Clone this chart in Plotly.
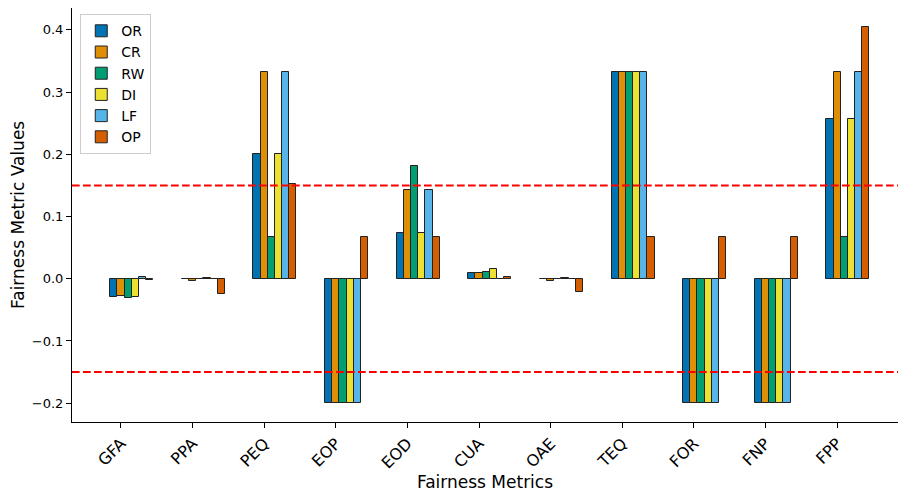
import plotly.graph_objects as go

metrics = ["GFA", "PPA", "PEQ", "EOP", "EOD", "CUA", "OAE", "TEQ", "FOR", "FNP", "FPP"]

series_names = ["OR", "CR", "RW", "DI", "LF", "OP"]
series_colors = ["#0173b2", "#de8f05", "#029e73", "#ece133", "#56b4e9", "#d55e00"]

OR = [-0.030, -0.001, 0.200, -0.200, 0.074, 0.010, -0.001, 0.333, -0.200, -0.200, 0.256]
CR = [-0.028, -0.003, 0.333, -0.200, 0.143, 0.010, -0.003, 0.333, -0.200, -0.200, 0.333]
RW = [-0.031, -0.001, 0.067, -0.200, 0.182, 0.011, -0.001, 0.333, -0.200, -0.200, 0.067]
DI = [-0.030, 0.001, 0.200, -0.200, 0.074, 0.015, 0.001, 0.333, -0.200, -0.200, 0.256]
LF = [0.002, -0.001, 0.333, -0.200, 0.143, -0.001, -0.001, 0.333, -0.200, -0.200, 0.333]
OP = [-0.002, -0.024, 0.153, 0.067, 0.067, 0.002, -0.022, 0.067, 0.067, 0.067, 0.405]

series_values = [OR, CR, RW, DI, LF, OP]
threshold = 0.15
bar_width = 0.1

fig = go.Figure()
for j, (name, color, vals) in enumerate(zip(series_names, series_colors, series_values)):
    xs = [i + (j - 1) * bar_width for i in range(len(metrics))]
    fig.add_trace(go.Bar(
        x=xs, y=vals, width=bar_width, name=name,
        marker=dict(color=color, line=dict(color="#222222", width=1)),
    ))

for yv in (threshold, -threshold):
    fig.add_hline(y=yv, line=dict(color="#ff0000", width=2, dash="7.7px,3.3px"))

font = "DejaVu Sans, Liberation Sans, sans-serif"
plot_w = 898 - 72

fig.add_annotation(
    text="Fairness Metric Values", textangle=-90,
    xref="paper", yref="paper", x=-(72 - 18) / plot_w, y=0.5,
    xanchor="center", yanchor="middle", showarrow=False,
    font=dict(size=17, family=font, color="black"),
)

fig.update_layout(
    width=898, height=493,
    margin=dict(l=72, r=0, t=8, b=71),
    barmode="overlay", bargap=0,
    plot_bgcolor="white", paper_bgcolor="white",
    font=dict(family=font, size=13, color="black"),
    showlegend=True,
    legend=dict(
        x=0.01, y=0.985, xanchor="left", yanchor="top",
        bgcolor="rgba(255,255,255,0.8)", bordercolor="#cccccc", borderwidth=1,
        font=dict(size=14, family=font), itemwidth=30, tracegroupgap=0,
    ),
    xaxis=dict(
        range=[-0.684, 10.85],
        tickmode="array", tickvals=list(range(len(metrics))), ticktext=metrics,
        tickangle=-45, ticks="outside", ticklen=5, tickcolor="black",
        showline=True, linecolor="black", linewidth=1, mirror=False,
        showgrid=False, zeroline=False,
        tickfont=dict(size=16),
        title=dict(text="Fairness Metrics", font=dict(size=17), standoff=4),
    ),
    yaxis=dict(
        range=[-0.2303, 0.4352],
        tickmode="array", tickvals=[-0.2, -0.1, 0.0, 0.1, 0.2, 0.3, 0.4],
        ticktext=["\u22120.2", "\u22120.1", "0.0", "0.1", "0.2", "0.3", "0.4"],
        ticks="outside", ticklen=5, tickcolor="black",
        showline=True, linecolor="black", linewidth=1, mirror=False,
        showgrid=False, zeroline=False,
        tickfont=dict(size=13),
    ),
)

fig.write_html("out.html")
